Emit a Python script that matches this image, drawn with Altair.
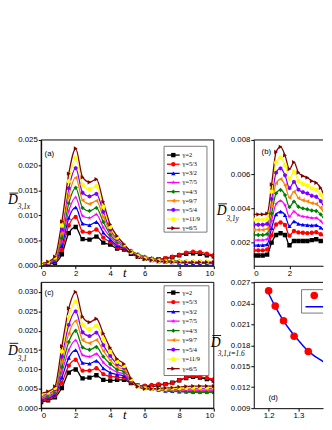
import altair as alt
import pandas as pd

# ---------------- categories / styles ----------------
GAMMAS = ["γ=2", "γ=5/3", "γ=3/2", "γ=7/5", "γ=4/3", "γ=9/7", "γ=5/4", "γ=11/9", "γ=6/5"]
COLORS = ["#000000", "#ff0000", "#0000ff", "#ff00ff", "#008000", "#ff8000", "#8000ff", "#ffff00", "#800000"]
STAR = "M0,-1L0.2245,-0.309L0.951,-0.309L0.3633,0.118L0.5878,0.809L0,0.382L-0.5878,0.809L-0.3633,0.118L-0.951,-0.309L-0.2245,-0.309Z"
HEX = "M0,-1L0.866,-0.5L0.866,0.5L0,1L-0.866,0.5L-0.866,-0.5Z"
SHAPES = ["square", "circle", "triangle-up", STAR, "diamond", "triangle-left", HEX, "circle", "triangle-right"]

# ---------------- panel (a): D_{3,1x} (units 1e-3) ----------------
T_AC = [0.0, 0.4, 0.8, 1.2, 1.6, 2.0, 2.4, 2.8, 3.2, 3.6, 4.0, 4.4, 4.8, 5.2, 5.6,
        6.0, 6.4, 6.8, 7.2, 7.6, 8.0, 8.4, 8.8, 9.2, 9.6, 10.0]
A_G2 = [0.20, 0.30, 0.60, 2.3, 6.5, 7.7, 5.3, 5.2, 5.8, 4.6, 4.2, 3.4, 3.2, 2.4, 1.8, 1.4, 1.3, 1.3, 1.4, 1.7, 2.1, 2.4, 2.5, 2.4, 2.1, 1.9]
A_G5_3 = [0.23, 0.36, 0.75, 3.1, 8.0, 9.7, 6.8, 6.6, 7.2, 5.6, 4.7, 3.7, 3.4, 2.6, 1.9, 1.5, 1.3, 1.3, 1.5, 1.8, 2.2, 2.6, 2.8, 2.7, 2.4, 2.1]
A_G3_2 = [0.26, 0.43, 0.90, 3.9, 9.5, 11.6, 8.4, 8.1, 8.7, 6.6, 5.2, 4.0, 3.5, 2.6, 1.9, 1.4, 1.1, 0.9, 0.8, 0.7, 0.6, 0.55, 0.5, 0.5, 0.45, 0.45]
A_G7_5 = [0.29, 0.49, 1.05, 4.7, 10.9, 13.6, 9.9, 9.5, 10.2, 7.6, 5.7, 4.3, 3.7, 2.8, 2.0, 1.5, 1.2, 1.0, 0.9, 0.8, 0.7, 0.65, 0.6, 0.6, 0.55, 0.5]
A_G4_3 = [0.33, 0.55, 1.20, 5.5, 12.4, 15.5, 11.5, 10.9, 11.5, 8.7, 6.2, 4.7, 3.9, 3.0, 2.3, 1.8, 1.5, 1.3, 1.1, 1.0, 0.9, 0.8, 0.7, 0.65, 0.6, 0.6]
A_G9_7 = [0.36, 0.61, 1.35, 6.4, 13.9, 17.5, 13.0, 12.3, 12.9, 9.7, 6.7, 5.0, 4.0, 2.9, 2.2, 1.7, 1.4, 1.2, 1.0, 0.9, 0.8, 0.8, 0.75, 0.7, 0.7, 0.7]
A_G5_4 = [0.39, 0.68, 1.50, 7.2, 15.4, 19.4, 14.5, 13.8, 14.3, 10.7, 7.2, 5.3, 4.1, 2.8, 2.0, 1.5, 1.2, 1.0, 0.9, 0.8, 0.8, 0.8, 0.8, 0.8, 0.75, 0.75]
A_G11_9 = [0.42, 0.74, 1.65, 8.0, 16.8, 21.4, 16.1, 15.2, 15.8, 11.7, 7.7, 5.6, 4.2, 2.7, 1.9, 1.4, 1.1, 0.95, 0.85, 0.8, 0.8, 0.8, 0.8, 0.8, 0.8, 0.8]
A_G6_5 = [0.45, 0.80, 1.80, 8.8, 18.3, 23.3, 17.6, 16.6, 17.2, 12.7, 8.2, 5.9, 4.3, 2.8, 1.8, 1.3, 1.1, 0.9, 0.8, 0.75, 0.7, 0.7, 0.7, 0.7, 0.7, 0.7]

# ---------------- panel (b): D_{3,1y} (units 1e-3) ----------------
T_B = [0.0, 0.25, 0.5, 0.75, 1.0, 1.25, 1.5, 1.75, 2.0, 2.25, 2.5, 2.75, 3.0, 3.25, 3.5, 3.75, 4.0, 4.25]
B_G2 = [1.25, 1.25, 1.25, 1.3, 2.0, 2.45, 2.55, 2.45, 1.85, 2.1, 2.1, 2.1, 2.1, 2.15, 2.2, 2.1, 2.05, 2.4]
B_G5_3 = [1.55, 1.55, 1.55, 1.6, 2.43, 3.06, 3.18, 3.03, 2.41, 2.68, 2.6, 2.58, 2.56, 2.58, 2.61, 2.49, 2.37, 2.63]
B_G3_2 = [1.85, 1.85, 1.85, 1.9, 2.85, 3.66, 3.81, 3.61, 2.96, 3.25, 3.1, 3.05, 3.03, 3.01, 3.03, 2.88, 2.69, 2.85]
B_G7_5 = [2.15, 2.15, 2.15, 2.2, 3.28, 4.27, 4.44, 4.19, 3.52, 3.83, 3.6, 3.53, 3.49, 3.44, 3.44, 3.26, 3.01, 3.08]
B_G4_3 = [2.45, 2.45, 2.45, 2.5, 3.7, 4.88, 5.08, 4.78, 4.08, 4.4, 4.1, 4.0, 3.95, 3.88, 3.85, 3.65, 3.33, 3.3]
B_G9_7 = [2.75, 2.75, 2.75, 2.8, 4.13, 5.48, 5.71, 5.36, 4.63, 4.98, 4.6, 4.48, 4.41, 4.31, 4.26, 4.04, 3.64, 3.53]
B_G5_4 = [3.05, 3.05, 3.05, 3.1, 4.55, 6.09, 6.34, 5.94, 5.19, 5.55, 5.1, 4.95, 4.88, 4.74, 4.68, 4.43, 3.96, 3.75]
B_G11_9 = [3.35, 3.35, 3.35, 3.4, 4.98, 6.69, 6.97, 6.52, 5.74, 6.13, 5.6, 5.43, 5.34, 5.17, 5.09, 4.81, 4.28, 3.98]
B_G6_5 = [3.65, 3.65, 3.65, 3.7, 5.4, 7.3, 7.6, 7.1, 6.3, 6.7, 6.1, 5.9, 5.8, 5.6, 5.5, 5.2, 4.6, 4.2]

# ---------------- panel (c): D_{3,1} (units 1e-3) ----------------
C_G2 = [1.6, 2.0, 2.8, 5.2, 9.2, 10.0, 7.7, 7.9, 8.5, 7.3, 7.1, 7.3, 7.3, 6.5, 5.8, 5.6, 5.6, 5.9, 6.2, 6.6, 7.2, 7.8, 8.1, 7.9, 7.5, 7.1]
C_G5_3 = [1.89, 2.29, 3.15, 6.55, 11.0, 12.5, 9.7, 9.7, 10.3, 8.8, 8.2, 8.0, 7.8, 6.6, 5.9, 5.8, 6.0, 6.2, 6.2, 6.5, 7.2, 7.9, 8.3, 8.1, 7.8, 7.4]
C_G3_2 = [2.18, 2.58, 3.5, 7.9, 13.0, 15.0, 11.7, 11.5, 12.2, 10.3, 9.2, 8.7, 8.3, 6.8, 5.7, 5.2, 4.9, 4.7, 4.5, 4.4, 4.3, 4.3, 4.2, 4.2, 4.2, 4.2]
C_G7_5 = [2.46, 2.86, 3.85, 9.25, 15.0, 17.5, 13.7, 13.3, 14.0, 11.8, 10.3, 9.3, 8.8, 6.9, 5.8, 5.3, 5.0, 4.8, 4.7, 4.6, 4.5, 4.5, 4.5, 4.5, 4.5, 4.5]
C_G4_3 = [2.75, 3.15, 4.2, 10.6, 17.1, 20.0, 15.7, 15.1, 15.8, 13.3, 11.4, 10.0, 9.4, 7.1, 6.0, 5.4, 5.0, 4.8, 4.6, 4.4, 4.3, 4.2, 4.1, 4.1, 4.1, 4.1]
C_G9_7 = [3.04, 3.44, 4.55, 11.95, 19.3, 22.5, 17.6, 16.8, 17.6, 14.8, 12.4, 10.7, 9.9, 7.2, 5.8, 5.3, 5.0, 4.8, 4.7, 4.7, 4.7, 4.8, 4.8, 4.8, 4.8, 4.8]
C_G5_4 = [3.33, 3.73, 4.9, 13.3, 21.5, 25.0, 19.6, 18.6, 19.5, 16.3, 13.5, 11.4, 10.4, 7.4, 5.7, 5.2, 5.0, 4.9, 4.9, 4.9, 5.0, 5.0, 5.1, 5.1, 5.1, 5.1]
C_G11_9 = [3.61, 4.01, 5.25, 14.65, 23.6, 27.5, 21.6, 20.4, 21.3, 17.8, 14.5, 12.0, 10.9, 7.5, 5.6, 5.1, 5.0, 5.0, 5.0, 5.1, 5.2, 5.2, 5.3, 5.3, 5.3, 5.3]
C_G6_5 = [3.9, 4.3, 5.6, 16.0, 25.8, 30.0, 23.6, 22.2, 23.1, 19.3, 15.6, 12.7, 11.4, 7.7, 5.6, 5.0, 5.0, 5.1, 5.2, 5.3, 5.5, 5.6, 5.7, 5.7, 5.7, 5.7]

# ---------------- panel (d): D_{3,1,t=1.6} vs gamma ----------------
D_GAMMA = [1.2, 1.2222, 1.25, 1.2857, 1.3333, 1.4, 1.5, 1.6667, 2.0]
D_VALUE = [0.0258, 0.0236, 0.0215, 0.0193, 0.0171, 0.0150, 0.0130, 0.0110, 0.0092]
FIT_GAMMA = [1.2, 1.225, 1.25, 1.275, 1.3, 1.325, 1.35, 1.375, 1.4, 1.45, 1.5]
FIT_VALUE = [0.0254, 0.0233, 0.0215, 0.0200, 0.0187, 0.0175, 0.0166, 0.0159, 0.0152, 0.0141, 0.0132]

X_TICKS = [0, 2, 4, 6, 8, 10]
A_YTICKS = [0.0, 0.005, 0.010, 0.015, 0.020, 0.025]
B_YTICKS = [0.002, 0.004, 0.006, 0.008]
C_YTICKS = [0.0, 0.005, 0.010, 0.015, 0.020, 0.025, 0.030]
D_YTICKS = [0.009, 0.012, 0.015, 0.018, 0.021, 0.024, 0.027]
D_XTICKS = [1.2, 1.3]


def long_table(t, series):
    rows = []
    for g, vals in zip(GAMMAS, series):
        for tt, v in zip(t, vals):
            rows.append({"t": tt, "v": v / 1000.0, "g": g})
    return pd.DataFrame(rows)


DF_A = long_table(T_AC, [A_G2, A_G5_3, A_G3_2, A_G7_5, A_G4_3, A_G9_7, A_G5_4, A_G11_9, A_G6_5])
DF_B = long_table(T_B, [B_G2, B_G5_3, B_G3_2, B_G7_5, B_G4_3, B_G9_7, B_G5_4, B_G11_9, B_G6_5])
DF_C = long_table(T_AC, [C_G2, C_G5_3, C_G3_2, C_G7_5, C_G4_3, C_G9_7, C_G5_4, C_G11_9, C_G6_5])
DF_D = pd.DataFrame({"gamma": D_GAMMA, "D": D_VALUE})
DF_FIT = pd.DataFrame({"gamma": FIT_GAMMA, "D": FIT_VALUE})
LEG = pd.DataFrame({"g": GAMMAS, "i": list(range(len(GAMMAS)))})
ONE = pd.DataFrame({"k": [0]})

CSCALE = alt.Scale(domain=GAMMAS, range=COLORS)
SSCALE = alt.Scale(domain=GAMMAS, range=SHAPES)

WL, WR, H = 177, 71, 129
SERIF = "Liberation Serif"
SANS = "Liberation Sans"
MSIZE = 20


def text(s, x, y, size, font=SANS, style="normal", align="left"):
    return alt.Chart(ONE).mark_text(text=s, font=font, fontSize=size, fontStyle=style,
                                    align=align, baseline="middle", color="black").encode(
        x=alt.value(x), y=alt.value(y))


def hrule(x1, x2, y, color="black", width=1.0, clip=False):
    return alt.Chart(ONE).mark_rule(color=color, strokeWidth=width, clip=clip).encode(
        x=alt.value(x1), x2=alt.value(x2), y=alt.value(y))


def ytitle(sub, xd, yd, xs, ys):
    return [text("D", xd, yd, 14, SERIF, "italic"),
            hrule(xd + 1.5, xd + 10.5, yd - 7.5, width=0.9),
            text(sub, xs, ys, 7.5, SERIF, "italic")]


def frame(w, h):
    return alt.Chart(ONE).mark_rect(fill="white", fillOpacity=0, stroke="black", strokeWidth=1).encode(
        x=alt.value(0), x2=alt.value(w), y=alt.value(0), y2=alt.value(h))


def legend_layers(bx0, bx1, by0, by1, iy0, iy1):
    ly = alt.Y("i:Q", scale=alt.Scale(domain=[0, 8], range=[iy0, iy1]), axis=None)
    col = alt.Color("g:N", scale=CSCALE, legend=None)
    box = alt.Chart(ONE).mark_rect(fill="white", stroke="#555555", strokeWidth=0.8).encode(
        x=alt.value(bx0), x2=alt.value(bx1), y=alt.value(by0), y2=alt.value(by1))
    rl = alt.Chart(LEG).mark_rule(strokeWidth=1.3).encode(
        x=alt.value(bx0 + 3), x2=alt.value(bx0 + 16), y=ly, color=col)
    pt = alt.Chart(LEG).mark_point(filled=True, size=MSIZE, opacity=1).encode(
        x=alt.value(bx0 + 9.5), y=ly, color=col, shape=alt.Shape("g:N", scale=SSCALE, legend=None))
    tx = alt.Chart(LEG).mark_text(align="left", baseline="middle", font=SERIF, fontSize=6.5,
                                  color="black").encode(x=alt.value(bx0 + 19), y=ly, text="g:N")
    return [box, rl, pt, tx]


def curves(df, xdom, ydom, xticks, yticks):
    xs = alt.Scale(domain=xdom, nice=False, zero=False)
    ys = alt.Scale(domain=ydom, nice=False, zero=False)
    xe = alt.X("t:Q", scale=xs, axis=alt.Axis(values=xticks, format="d", title=None))
    col = alt.Color("g:N", scale=CSCALE, legend=None)
    lines = alt.Chart(df).mark_line(strokeWidth=1.3, interpolate="monotone", clip=True).encode(
        x=xe, y=alt.Y("v:Q", scale=ys, axis=alt.Axis(values=yticks, format=".3f", title=None)),
        color=col)
    pts = alt.Chart(df).mark_point(filled=True, size=MSIZE, opacity=1, clip=True).encode(
        x=xe, y=alt.Y("v:Q", scale=ys, axis=None), color=col,
        shape=alt.Shape("g:N", scale=SSCALE, legend=None))
    return [lines, pts]


# ---- panel (a)
pa = alt.layer(
    *curves(DF_A, [0, 10], [0, 0.025], X_TICKS, A_YTICKS),
    *legend_layers(126, 170, 6.5, 94.5, 15.5, 90.5),
    frame(WL, H),
    text("(a)", 3.5, 14, 8),
    text("t", 84, 137, 13, SERIF, "italic"),
    *ytitle("3,1x", -34, 62, -24, 68.5),
).resolve_scale(y="independent").properties(width=WL, height=H)

# ---- panel (b)
pb = alt.layer(
    *curves(DF_B, [0, 3.88], [0.00065, 0.008], [0, 2], B_YTICKS),
    hrule(0, WR, 0),
    text("(b)", 8, 12, 8),
    *ytitle("3,1y", -38, 73, -28, 81),
).resolve_scale(y="independent").properties(width=WR, height=H)

# ---- panel (c)
pc = alt.layer(
    *curves(DF_C, [0, 10], [0, 0.0325], X_TICKS, C_YTICKS),
    *legend_layers(126, 172, 3.5, 95.5, 10.5, 88.5),
    frame(WL, H),
    text("(c)", 3.5, 11, 8),
    text("t", 84, 136, 13, SERIF, "italic"),
    *ytitle("3,1", -34, 70, -24, 78.5),
).resolve_scale(y="independent").properties(width=WL, height=H)

# ---- panel (d)
dxs = alt.Scale(domain=[1.15, 1.383], nice=False, zero=False)
dys = alt.Scale(domain=[0.009, 0.027], nice=False, zero=False)
dx = alt.X("gamma:Q", scale=dxs, axis=alt.Axis(values=D_XTICKS, format=".1f", title=None))
dy = alt.Y("D:Q", scale=dys, axis=alt.Axis(values=D_YTICKS, format=".3f", title=None))
fit = alt.Chart(DF_FIT).mark_line(color="#0000ff", strokeWidth=1.5, interpolate="monotone", clip=True).encode(x=dx, y=dy)
dpts = alt.Chart(DF_D).mark_point(filled=True, size=60, opacity=1, color="#ff0000", clip=True).encode(x=dx, y=dy)
dbox = alt.Chart(ONE).mark_rect(fill="white", stroke="#555555", strokeWidth=0.8, clip=True).encode(
    x=alt.value(49), x2=alt.value(140), y=alt.value(7.5), y2=alt.value(31.5))
dleg_pt = alt.Chart(ONE).mark_point(filled=True, size=60, opacity=1, color="#ff0000", clip=True).encode(
    x=alt.value(62), y=alt.value(13.5))
pd_ = alt.layer(
    fit, dpts, dbox, dleg_pt,
    hrule(53, 90, 25, color="#0000ff", width=1.5, clip=True),
    hrule(0, WR, 0),
    text("(d)", 15, 119, 8),
    *ytitle("3,1,t=1.6", -44, 62, -37, 74),
).properties(width=WR, height=H)

chart = alt.ConcatChart(
    concat=[pa, pb, pc, pd_], columns=2,
    spacing=alt.RowColnumber(row=17, column=41), bounds="flush",
).properties(
    padding={"left": 0, "top": 126, "right": 0, "bottom": 0},
    background="white",
).configure_view(stroke=None).configure_axis(
    labelFont=SANS, labelFontSize=8, labelColor="black", tickColor="black",
    domainColor="black", tickSize=3, labelPadding=1, grid=False, domainWidth=1, tickWidth=1,
)

chart.save("out.html", embed_options={"renderer": "svg", "actions": False})
